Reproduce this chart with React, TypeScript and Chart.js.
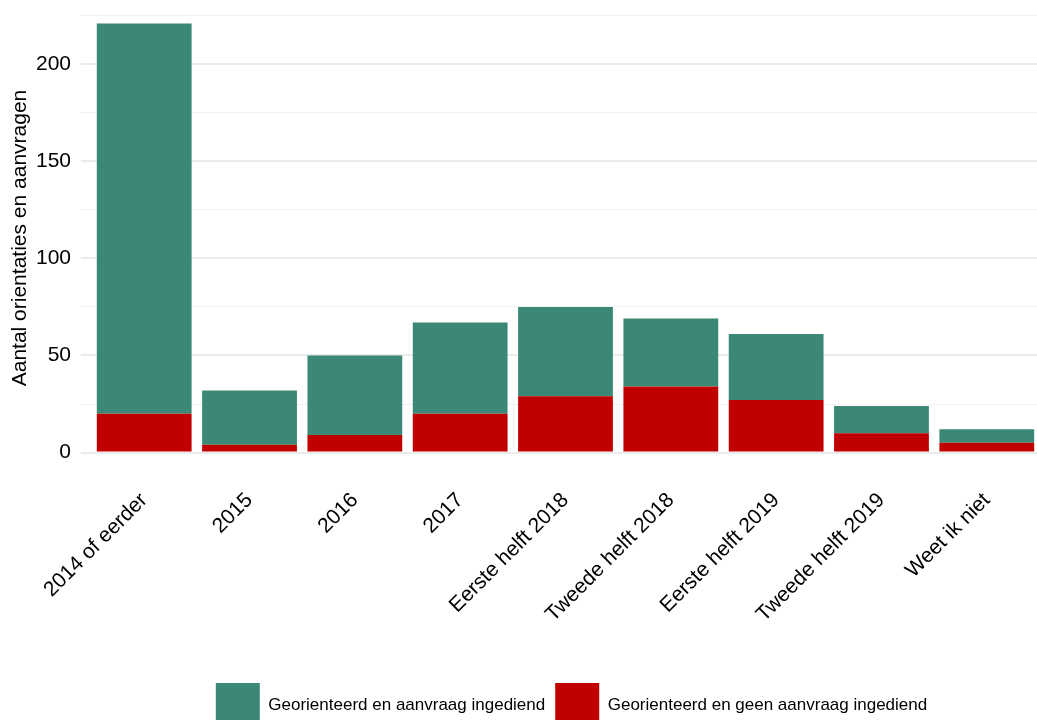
import React, { useEffect, useRef } from "react";
import { Chart, registerables } from "chart.js";

Chart.register(...registerables);

const categories = [
  "2014 of eerder",
  "2015",
  "2016",
  "2017",
  "Eerste helft 2018",
  "Tweede helft 2018",
  "Eerste helft 2019",
  "Tweede helft 2019",
  "Weet ik niet",
];
const aanvraagIngediend = [201, 28, 41, 47, 46, 35, 34, 14, 7];
const geenAanvraagIngediend = [20, 4, 9, 20, 29, 34, 27, 10, 5];
const seriesNames = [
  "Georienteerd en aanvraag ingediend",
  "Georienteerd en geen aanvraag ingediend",
];
const yGridValues = [0, 25, 50, 75, 100, 125, 150, 175, 200, 225];
const yLabelValues = [0, 50, 100, 150, 200];
const yTitle = "Aantal orientaties en aanvragen";

const GREEN = "#3b8877";
const RED = "#c00000";
const FONT = "'Liberation Sans', Arial, Helvetica, sans-serif";

const zeroPadding = (scale: any) => {
  scale.paddingLeft = 0;
  scale.paddingRight = 0;
  scale.paddingTop = 0;
  scale.paddingBottom = 0;
};

const legendShift = {
  id: "legendShift",
  afterLayout(chart: any) {
    if (chart.legend) {
      chart.legend.left += 6;
      chart.legend.right += 6;
    }
  },
};

export default function App() {
  const ref = useRef<HTMLCanvasElement | null>(null);

  useEffect(() => {
    const canvas = ref.current;
    if (!canvas) return;
    Chart.defaults.font.family = FONT;
    const totals = categories.map((_, i) => aanvraagIngediend[i] + geenAanvraagIngediend[i]);
    const maxTotal = Math.max(...totals);
    const expand = maxTotal * 0.05;
    const n = categories.length;

    const chart = new Chart(canvas, {
      type: "bar",
      plugins: [legendShift],
      data: {
        datasets: [
          {
            label: seriesNames[1],
            data: geenAanvraagIngediend.map((v, i) => ({ x: i, y: v })),
            backgroundColor: RED,
            borderWidth: 0,
            barPercentage: 0.9,
            categoryPercentage: 1,
          },
          {
            label: seriesNames[0],
            data: aanvraagIngediend.map((v, i) => ({ x: i, y: v })),
            backgroundColor: GREEN,
            borderWidth: 0,
            barPercentage: 0.9,
            categoryPercentage: 1,
          },
        ],
      },
      options: {
        responsive: false,
        animation: false,
        layout: { padding: { top: 2, left: 0, right: 0, bottom: 0 } },
        plugins: {
          tooltip: { enabled: false },
          legend: {
            position: "bottom",
            fullSize: false,
            reverse: true,
            labels: {
              boxWidth: 44,
              boxHeight: 44,
              padding: 10,
              color: "#000",
              font: { size: 17, family: FONT },
            },
          },
        },
        scales: {
          x: {
            type: "linear",
            stacked: true,
            offset: false,
            min: -0.6,
            max: n - 1 + 0.6,
            grid: { display: false, offset: false },
            border: { display: false },
            afterBuildTicks: (scale: any) => {
              scale.ticks = categories.map((_, i) => ({ value: i }));
            },
            afterFit: (scale: any) => {
              scale.height = 199;
              zeroPadding(scale);
            },
            ticks: {
              autoSkip: false,
              maxRotation: 45,
              minRotation: 45,
              padding: 6,
              color: "#000",
              font: { size: 21, family: FONT },
              callback: (v: any) => categories[Math.round(Number(v))] ?? "",
            },
          },
          y: {
            type: "linear",
            stacked: true,
            min: -expand,
            max: maxTotal + expand,
            border: { display: false },
            afterBuildTicks: (scale: any) => {
              scale.ticks = yGridValues.map((v) => ({ value: v }));
            },
            afterFit: (scale: any) => {
              scale.width = 81;
              zeroPadding(scale);
            },
            grid: {
              drawTicks: false,
              color: (ctx: any) =>
                yLabelValues.includes(ctx.tick?.value) ? "#ebebeb" : "#f0f0f0",
              lineWidth: (ctx: any) => (yLabelValues.includes(ctx.tick?.value) ? 2 : 1),
            },
            ticks: {
              padding: 10,
              color: "#000",
              font: { size: 21, family: FONT },
              callback: (v: any) => (yLabelValues.includes(Number(v)) ? String(v) : ""),
            },
            title: {
              display: true,
              text: yTitle,
              color: "#000",
              font: { size: 21, family: FONT },
              padding: { top: 8, bottom: 0 },
            },
          },
        },
      },
    });
    return () => chart.destroy();
  }, []);

  return (
    <div
      style={{
        position: "fixed",
        left: 0,
        top: 0,
        width: 1037,
        height: 720,
        overflow: "hidden",
        background: "#fff",
      }}
    >
      <canvas ref={ref} width={1050} height={737} style={{ display: "block" }} />
    </div>
  );
}
